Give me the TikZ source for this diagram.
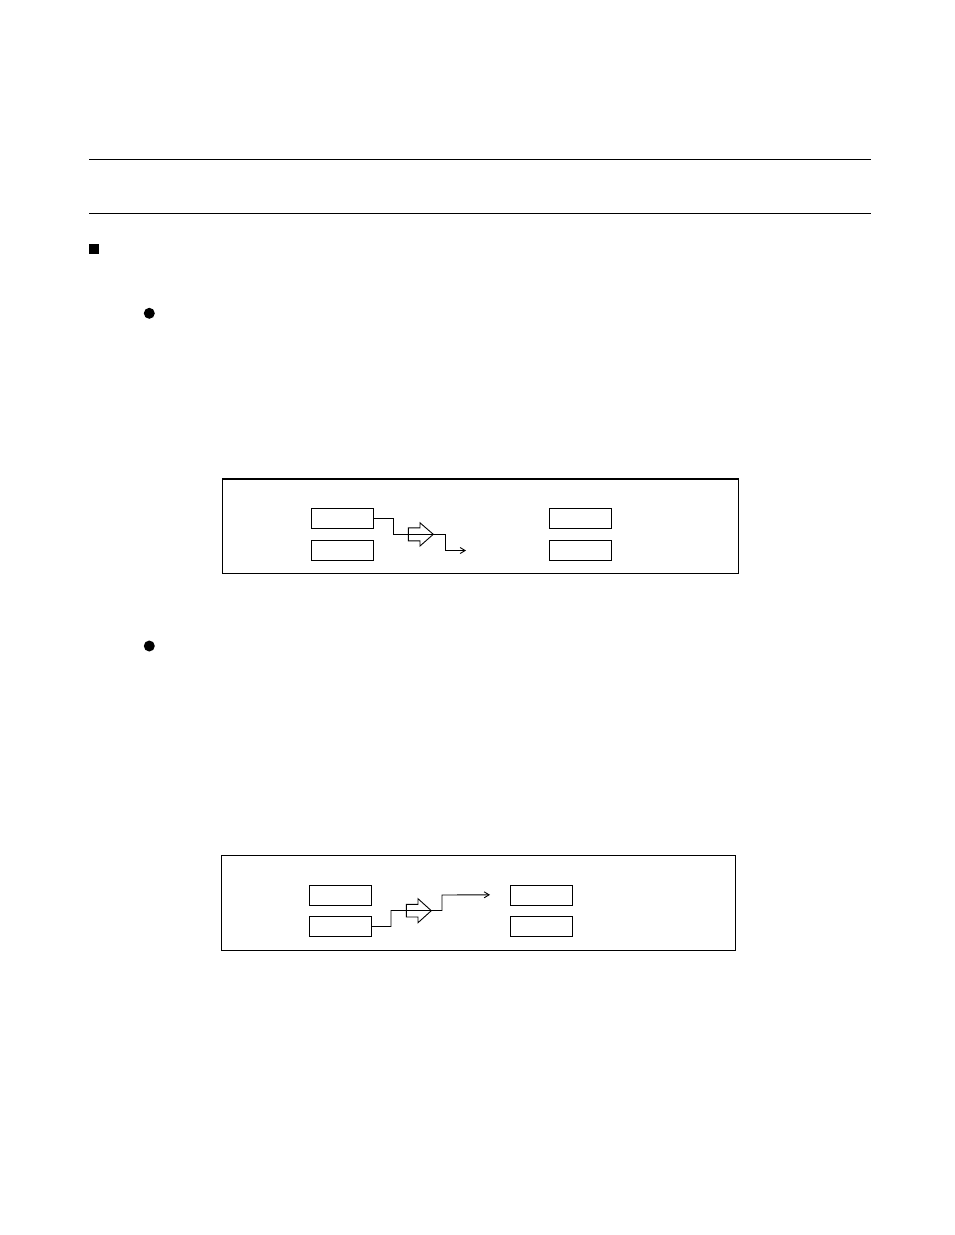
\documentclass[tikz,border=0pt]{standalone}
\usetikzlibrary{positioning, arrows.meta}

\begin{document}
\begin{tikzpicture}[
    x=1pt, y=-1pt,
    node distance=11.5pt and 176pt,
    every node/.style={inner sep=0pt, outer sep=0pt},
    frame/.style={draw, line width=1.6pt},
    thinframe/.style={draw, line width=1pt},
    cell/.style={draw, line width=1pt, minimum width=62pt, minimum height=20pt},
    wire/.style={line width=0.9pt},
    arrow/.style={wire, -{Straight Barb[length=5pt, width=6pt]}},
    hollow/.style={draw, line width=0.9pt, line join=miter}
]
\useasboundingbox (0,0) rectangle (954,1235);

% Header rules and bullets
\draw[line width=0.9pt] (89,159) -- (871,159);
\draw[line width=0.9pt] (89,213) -- (871,213);
\fill (89,243.5) rectangle (99,254);
\fill (149.3,313.3) circle (5.5);
\fill (149.3,646) circle (5.5);

% First diagram
\node[frame, minimum width=516pt, minimum height=94.5pt] (frameA) at (480.3,526.2) {};
\node[cell] (srcA1) at (342,518.5) {};
\node[cell, below=of srcA1] (srcA2) {};
\node[cell, right=of srcA1] (dstA1) {};
\node[cell, below=of dstA1] (dstA2) {};
\coordinate (tipA) at (466,550.5);
\draw[arrow] (srcA1.east) -| ++(20,16) -| ++(52,16) -- (tipA);
\coordinate (shiftA) at (408.3,534.3);
\draw[hollow] (shiftA) ++(0,-6.5) -- ++(11.7,0) -- ++(0,-5) -- ++(13.3,11.5)
    -- ++(-13.3,11.7) -- ++(0,-5.2) -- ++(-11.7,0) -- cycle;

% Second diagram
\node[thinframe, minimum width=514.4pt, minimum height=95pt] (frameB) at (478.5,902.5) {};
\node[cell] (srcB1) at (340,895) {};
\node[cell, below=of srcB1] (srcB2) {};
\node[cell, right=139pt of srcB1] (dstB1) {};
\node[cell, below=of dstB1] (dstB2) {};
\coordinate (tipB) at (490,894.8);
\draw[arrow] (srcB2.east) -| ++(20,-16) -| ++(51,-15.5) -- (tipB);
\coordinate (shiftB) at (406.3,910.7);
\draw[hollow] (shiftB) ++(0,-6.3) -- ++(11.7,0) -- ++(0,-5.7) -- ++(13.3,12)
    -- ++(-13.3,12) -- ++(0,-5.7) -- ++(-11.7,0) -- cycle;

\end{tikzpicture}
\end{document}
